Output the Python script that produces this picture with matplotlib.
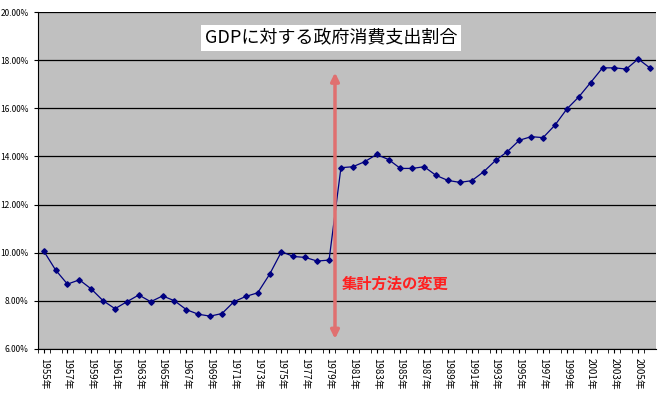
import numpy as np
import matplotlib.pyplot as plt
from matplotlib.ticker import FuncFormatter

plt.rcParams['font.family'] = 'Noto Sans CJK JP'

years = list(range(1955, 2007))
ratio = [10.07, 9.28, 8.69, 8.87, 8.49, 8.00, 7.67, 7.96, 8.24, 7.96,
         8.20, 8.00, 7.63, 7.44, 7.36, 7.47, 7.96, 8.18, 8.33, 9.10,
         10.04, 9.84, 9.80, 9.65, 9.69, 13.53, 13.57, 13.78, 14.08, 13.87,
         13.50, 13.50, 13.57, 13.21, 13.00, 12.92, 12.99, 13.36, 13.83, 14.20,
         14.67, 14.82, 14.78, 15.30, 15.97, 16.47, 17.07, 17.68, 17.68, 17.63,
         18.05, 17.67]
title = 'GDPに対する政府消費支出割合'
note = '集計方法の変更'

fig = plt.figure(figsize=(6.62, 4.01), dpi=100)
ax = fig.add_axes([0.057, 0.130, 0.934, 0.840])
ax.set_facecolor('#c0c0c0')
x = np.arange(len(years))
ax.plot(x, ratio, color='#000080', lw=0.9, marker='D', ms=2.8)
ax.set_xlim(-0.5, len(years) - 0.5)
ax.set_ylim(6, 20)
ax.set_yticks(np.arange(6, 21, 2))
ax.yaxis.set_major_formatter(FuncFormatter(lambda v, p: f'{v:.2f}%'))
ax.grid(axis='y', color='black', lw=0.9)
ax.set_axisbelow(True)
ax.set_xticks(x[::2])
ax.set_xticklabels([f'{y}年' for y in years[::2]], rotation=270, fontsize=7)
ax.set_xticks(x - 0.5, minor=True)
ax.tick_params(axis='x', which='both', length=3)
ax.tick_params(axis='y', labelsize=6, length=3)
for s in ['top', 'right']:
    ax.spines[s].set_visible(False)

xa = years.index(1979) + 0.5
ax.annotate('', xy=(xa, 17.6), xytext=(xa, 6.3),
            arrowprops=dict(arrowstyle='<|-|>', color='#e07070', lw=2.5,
                            mutation_scale=12))
ax.text(xa + 0.6, 8.7, note, color='#ff2020', fontsize=11, fontweight='bold', va='center')
fig.text(0.5, 0.905, title, ha='center', va='center', fontsize=13,
         bbox=dict(facecolor='white', edgecolor='none', pad=3))

fig.savefig('out.png')
